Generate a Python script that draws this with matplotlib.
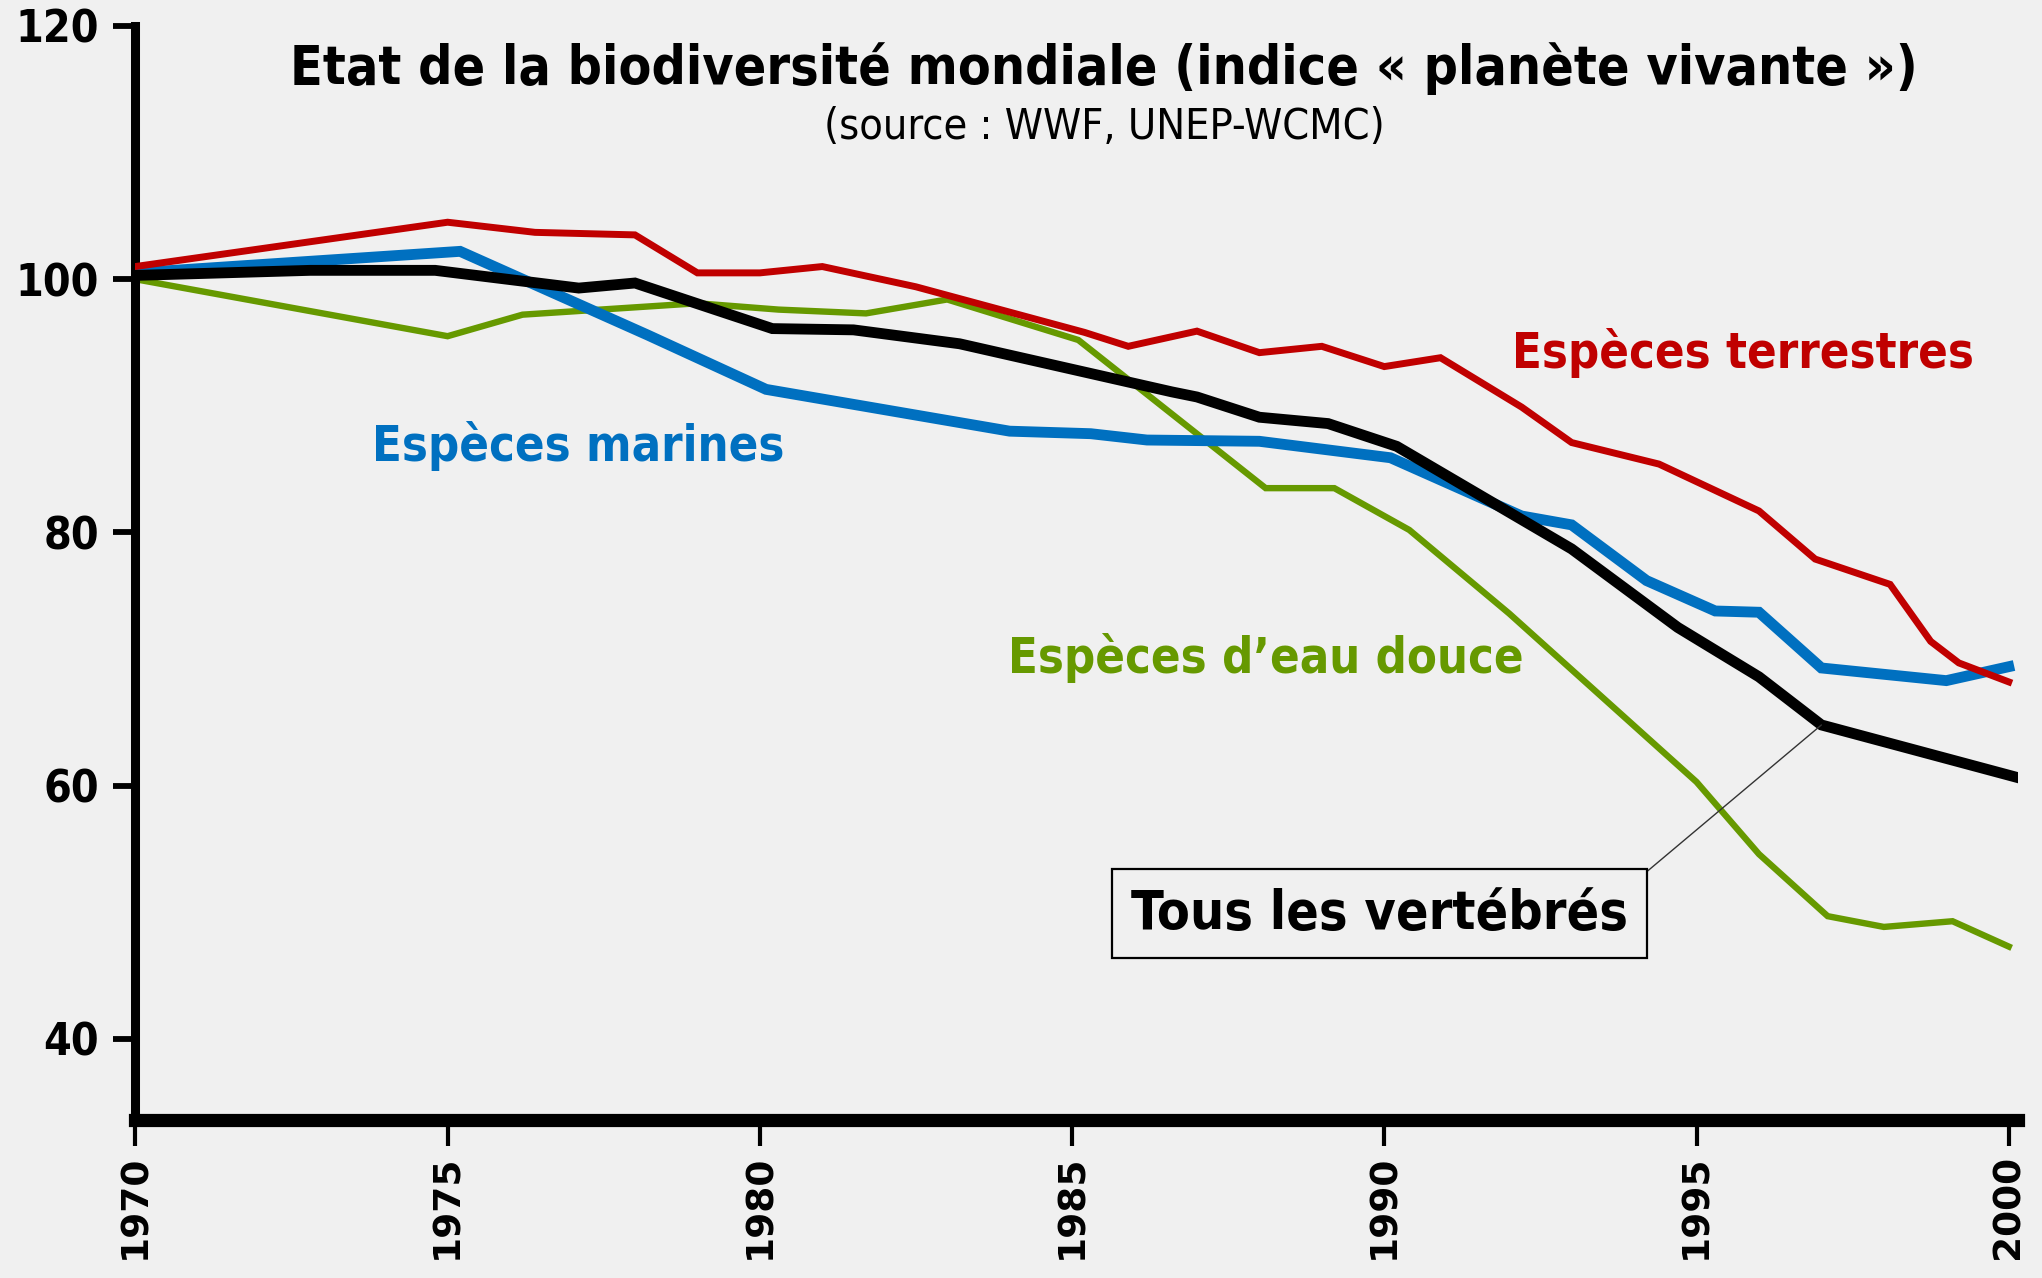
import matplotlib
matplotlib.use("Agg")
import matplotlib.pyplot as plt

# Living Planet Index, 1970 = 100
years_terre = [1970, 1975.0, 1976.4, 1978.0, 1979.0, 1980.0, 1981.0, 1982.5, 1985.2, 1985.9,
               1987.0, 1988.0, 1989.0, 1990.0, 1990.9, 1992.2, 1993.0, 1994.4, 1996.0,
               1996.9, 1998.1, 1998.75, 1999.2, 2000]
vals_terre = [101.0, 104.5, 103.7, 103.5, 100.5, 100.5, 101.0, 99.4, 95.8, 94.7,
              95.9, 94.2, 94.7, 93.1, 93.8, 89.9, 87.1, 85.4, 81.7,
              77.9, 75.9, 71.4, 69.7, 68.2]

years_mer = [1970, 1975.2, 1978.2, 1980.1, 1984.0, 1985.3, 1986.2, 1988.0, 1990.1,
             1992.2, 1993.0, 1994.2, 1995.3, 1996.0, 1997.0, 1999.0, 2000]
vals_mer = [100.5, 102.2, 95.6, 91.3, 88.0, 87.8, 87.3, 87.2, 85.9,
            81.3, 80.6, 76.2, 73.8, 73.7, 69.3, 68.3, 69.4]

years_douce = [1970, 1975.0, 1976.2, 1979.0, 1980.3, 1981.7, 1983.0, 1985.1, 1988.1,
               1989.2, 1990.4, 1992.0, 1995.0, 1996.0, 1997.1, 1998.0, 1999.1, 2000]
vals_douce = [100.0, 95.5, 97.2, 98.1, 97.6, 97.3, 98.4, 95.2, 83.5,
              83.5, 80.2, 73.6, 60.3, 54.6, 49.7, 48.85, 49.3, 47.3]

years_tous = [1970, 1972.8, 1974.8, 1977.1, 1978.0, 1980.2, 1981.5, 1983.2, 1986.6,
              1987.0, 1988.0, 1989.1, 1990.2, 1993.0, 1994.7, 1996.0, 1997.0, 2000.1]
vals_tous = [100.3, 100.7, 100.7, 99.3, 99.7, 96.1, 96.0, 94.9, 91.1,
             90.7, 89.1, 88.6, 86.8, 78.7, 72.5, 68.6, 64.8, 60.7]

x_ticks = [1970, 1975, 1980, 1985, 1990, 1995, 2000]
y_ticks = [40, 60, 80, 100, 120]

BG = "#f0f0f0"
RED, BLUE, GREEN = "#c00000", "#0070c0", "#669900"
FONT = "DejaVu Sans"

fig = plt.figure(figsize=(20.42, 12.78), dpi=100, facecolor=BG)
ax = fig.add_axes([0.0663, 0.1236, 0.9220, 0.8561])
ax.set_facecolor(BG)

ax.plot(years_douce, vals_douce, color=GREEN, lw=4.6, zorder=2, solid_joinstyle="miter")
ax.plot(years_mer, vals_mer, color=BLUE, lw=7.8, zorder=3, solid_joinstyle="miter")
ax.plot(years_terre, vals_terre, color=RED, lw=5.0, zorder=4, solid_joinstyle="miter")
ax.plot(years_tous, vals_tous, color="black", lw=7.8, zorder=5, solid_joinstyle="miter")

ax.set_xlim(1970, 2000.15)
ax.set_ylim(33.6, 120)

for side in ("top", "right"):
    ax.spines[side].set_visible(False)
ax.spines["left"].set_linewidth(6.5)
ax.spines["bottom"].set_linewidth(9.5)
ax.spines["left"].set_capstyle("projecting")

ax.set_xticks(x_ticks)
ax.set_yticks(y_ticks)
ax.tick_params(axis="y", length=16, width=4.2, pad=10)
ax.tick_params(axis="x", length=19, width=3, pad=6)
ax.set_yticklabels([str(v) for v in y_ticks], fontsize=32, fontweight="bold",
                   family=FONT, fontstretch="condensed")
ax.set_xticklabels([str(v) for v in x_ticks], fontsize=27, fontweight="bold",
                   family=FONT, rotation=90)

# title and source
fig.text(0.5406, 0.934, "Etat de la biodiversité mondiale (indice « planète vivante »)",
         ha="center", va="baseline", fontsize=38.5, fontweight="bold", family=FONT,
         fontstretch="condensed")
fig.text(0.5406, 0.8915, "(source : WWF, UNEP-WCMC)", ha="center", va="baseline",
         fontsize=31, family=FONT, fontstretch="condensed")

# series labels
lab = dict(ha="center", va="center", fontsize=35, fontweight="bold", family=FONT,
           fontstretch="condensed")
ax.text(1977.1, 86.8, "Espèces marines", color=BLUE, **lab)
ax.text(1995.74, 94.2, "Espèces terrestres", color=RED, **lab)
ax.text(1988.1, 70.1, "Espèces d’eau douce", color=GREEN, **lab)

ax.annotate("Tous les vertébrés", xy=(1997.0, 64.8), xytext=(1989.92, 49.9),
            ha="center", va="center", fontsize=38.6, fontweight="bold", family=FONT,
            fontstretch="condensed", zorder=6,
            bbox=dict(boxstyle="square,pad=0.35", fc=BG, ec="black", lw=1.6),
            arrowprops=dict(arrowstyle="-", color="#333333", lw=1.0,
                            relpos=(1.0, 1.0), shrinkA=0, shrinkB=0))

fig.savefig("out.png", dpi=100, facecolor=BG)
